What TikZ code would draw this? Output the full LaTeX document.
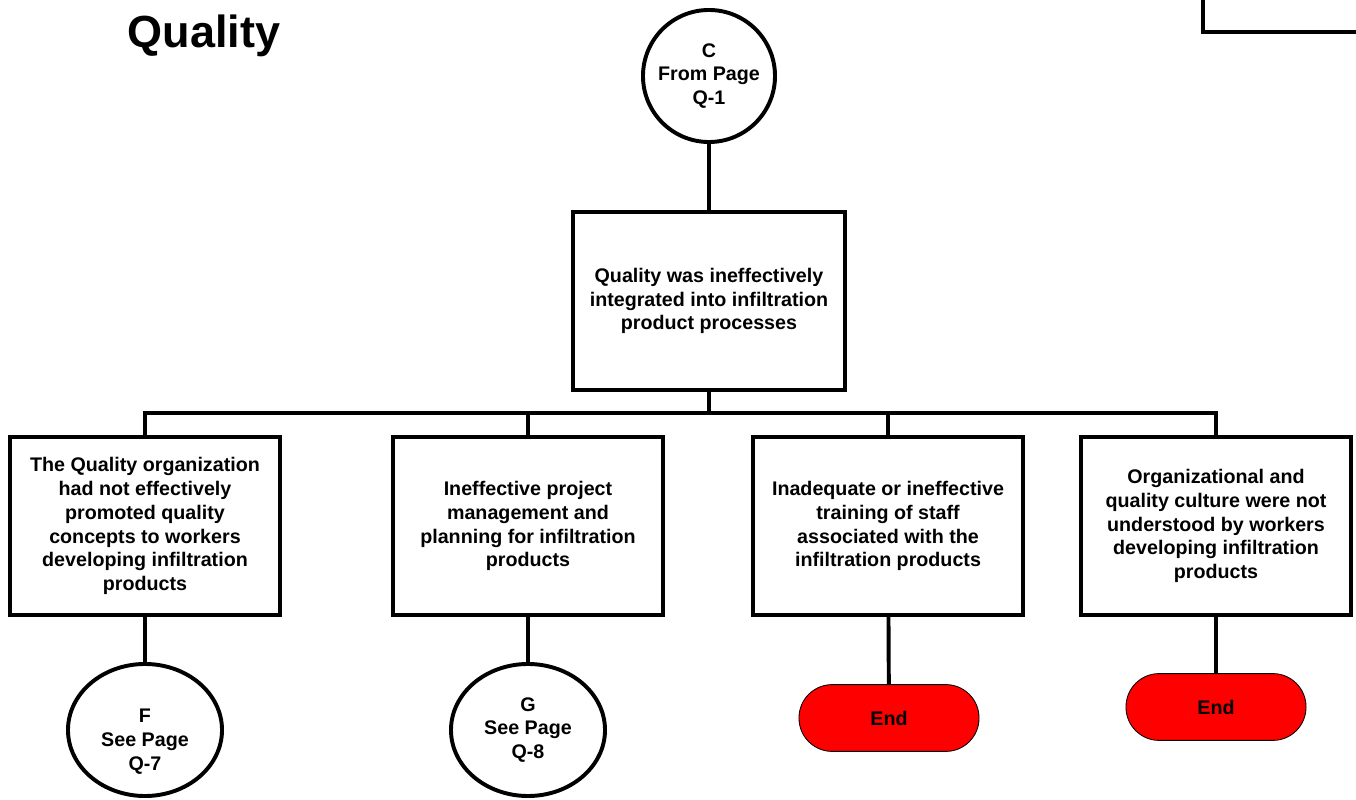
\documentclass[tikz,border=0pt]{standalone}
\usepackage{fontspec}
\setmainfont{Liberation Sans}
\usetikzlibrary{positioning,shapes.geometric}
\definecolor{endred}{HTML}{FF0000}
\tikzset{
  boxtext/.style={font=\bfseries\fontsize{14}{17}\selectfont,align=center},
  causebox/.style={rectangle,draw=black,line width=2.8pt,fill=white,boxtext,minimum width=6.75cm,minimum height=4.45cm,inner sep=0pt},
  pagelink/.style={circle,draw=black,line width=2.8pt,fill=white,boxtext,minimum size=3.3cm,inner sep=0pt},
  pageoval/.style={ellipse,draw=black,line width=2.8pt,fill=white,boxtext,minimum width=3.85cm,minimum height=3.3cm,inner sep=0pt},
  stopbox/.style={rectangle,rounded corners=0.83cm,draw=black,line width=0.6pt,fill=endred,boxtext,minimum width=4.5cm,minimum height=1.67cm},
  wire/.style={line width=2.8pt,line join=miter}
}
\begin{document}
\begin{tikzpicture}[x=0.025cm,y=-0.025cm]
  \clip (0,0) rectangle (1356,800);
  \fill[white] (0,0) rectangle (1356,800);

  \node[font=\bfseries\fontsize{32}{36}\selectfont] (title) at (204,36) {Quality};
  \node[rectangle,draw=black,line width=2.8pt,minimum width=4.5cm,minimum height=2cm] (pagebox) at (1293,-8) {};

  % top of the branch
  \node[pagelink] (c) at (709,76) {C\\From Page\\Q-1};
  \node[causebox,minimum width=6.8cm] (main) at (709,301) {Quality was ineffectively\\integrated into infiltration\\product processes};

  % causes
  \node[causebox] (q1) at (145,526) {The Quality organization\\had not effectively\\promoted quality\\concepts to workers\\developing infiltration\\products};
  \node[causebox] (q2) at (528,526) {Ineffective project\\management and\\planning for infiltration\\products};
  \node[causebox] (q3) at (888,526) {Inadequate or ineffective\\training of staff\\associated with the\\infiltration products};
  \node[causebox] (q4) at (1216,526) {Organizational and\\quality culture were not\\understood by workers\\developing infiltration\\products};

  % continuations
  \node[pageoval] (f) at (145,730) {};
  \node[boxtext] (ftext) at ([yshift=-0.3cm]f.center) {F\\See Page\\Q-7};
  \node[pageoval] (g) at (528,730) {G\\See Page\\Q-8};
  \node[stopbox] (end1) at (889,718) {End};
  \node[stopbox] (end2) at (1216,707) {End};

  \coordinate (bus) at (709,413);
  \draw[wire] (c) -- (main);
  \draw[wire] (main) -- (main |- bus);
  \draw[wire] (q1.north) -- (q1.north |- bus) -- (q4.north |- bus) -- (q4.north);
  \draw[wire] (q2.north |- bus) -- (q2.north);
  \draw[wire] (q3.north |- bus) -- (q3.north);
  \draw[wire] (q1) -- (f);
  \draw[wire] (q2) -- (g);
  \draw[wire] (q3) -- (end1);
  \draw[wire] (q4) -- (end2);
\end{tikzpicture}
\end{document}
